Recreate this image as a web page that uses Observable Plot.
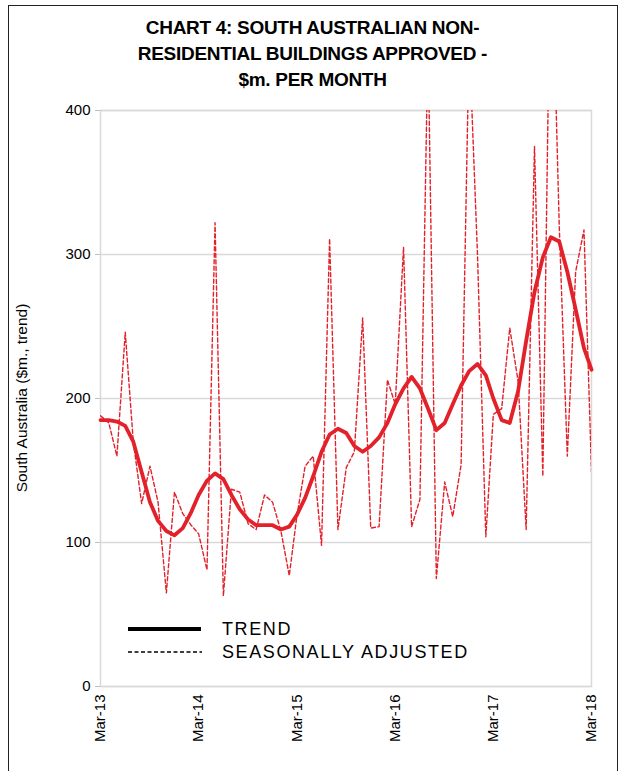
<!DOCTYPE html>
<html><head><meta charset="utf-8">
<script src="https://cdn.jsdelivr.net/npm/d3@7"></script>
<script src="https://cdn.jsdelivr.net/npm/@observablehq/plot@0.6"></script>
<style>
html,body{margin:0;padding:0;background:#fff;}
#wrap{position:relative;width:625px;height:771px;overflow:hidden;font-family:"Liberation Sans",Arial,sans-serif;color:#000;}
#border{position:absolute;left:8px;top:5px;width:610px;height:770px;border:1.5px solid #222;box-sizing:border-box;}
#title{position:absolute;left:0;width:625px;top:15px;text-align:center;font-weight:bold;font-size:19px;letter-spacing:-0.3px;line-height:26px;}
#chart{position:absolute;left:0;top:95px;}
#ylabel{position:absolute;left:22px;top:398px;transform:translate(-50%,-50%) rotate(-90deg);white-space:nowrap;font-size:15.5px;}
.leg{position:absolute;left:222px;font-size:18px;letter-spacing:1.6px;white-space:nowrap;}
</style>
</head><body>
<div id="wrap">
  <div id="border"></div>
  <div id="title">CHART 4: SOUTH AUSTRALIAN NON-<br>RESIDENTIAL BUILDINGS APPROVED -<br>$m. PER MONTH</div>
  <div id="chart"></div>
  <div id="ylabel">South Australia ($m., trend)</div>
  <div style="position:absolute;left:128px;top:627px;width:73px;height:4px;background:#000;"></div>
  <svg style="position:absolute;left:128px;top:650px;" width="74" height="4"><line x1="0" y1="2" x2="74" y2="2" stroke="#000" stroke-width="1.3" stroke-dasharray="4,2.5"/></svg>
  <div class="leg" style="top:619px;">TREND</div>
  <div class="leg" style="top:642px;">SEASONALLY ADJUSTED</div>
</div>
<script>
const trend = [185,185,184,181,170,149,128,115,108,105,110,121,133,143,148,144,133,123,116,112,
  112,112,109,111,119,131,146,163,175,179,176,167,163,167,173,183,196,207,215,207,
  193,178,183,196,209,219,224,216,200,185,183,205,240,274,298,312,309,288,262,235,220];
const seasAdj = [188,183,160,246,170,127,153,128,65,135,120,112,106,81,322,63,137,135,113,109,
  133,128,108,77,118,153,160,98,311,109,152,163,256,110,111,213,196,305,111,130,
  450,75,142,118,154,450,300,104,189,193,249,212,109,375,146,540,320,160,288,317,149];
const xTickLabels = ["Mar-13","Mar-14","Mar-15","Mar-16","Mar-17","Mar-18"];
const yTicks = [0,100,200,300,400];

const months = d3.utcMonth.range(new Date(Date.UTC(2013,2,1)), new Date(Date.UTC(2018,3,1)));
const tickDates = months.filter((d,i)=>i%12===0);
const data = months.map((d,i)=>({date:d, trend:trend[i], sa:seasAdj[i]}));
const red = "#E3212A";

const chart = Plot.plot({
  width:625, height:676,
  marginLeft:100, marginRight:34, marginTop:15, marginBottom:85,
  x:{type:"utc", domain:[months[0], months[months.length-1]]},
  y:{domain:[0,400]},
  style:{fontFamily:"Liberation Sans, Arial, sans-serif", fontSize:"15px", color:"#000", background:"transparent", overflow:"visible"},
  marks:[
    Plot.gridY(yTicks, {stroke:"#d9d9d9", strokeOpacity:1, strokeWidth:1.5}),
    Plot.frame({stroke:"#d9d9d9", strokeWidth:1.5}),
    Plot.axisY({ticks:yTicks, tickSize:5, tickPadding:5, label:null, stroke:"#bfbfbf"}),
    Plot.axisX({ticks:tickDates, tickFormat:d=>xTickLabels[tickDates.findIndex(t=>+t===+d)], tickRotate:-90, tickSize:0, tickPadding:8, label:null}),
    Plot.line(data, {x:"date", y:"sa", stroke:red, strokeWidth:1.4, strokeDasharray:"4,2.5", clip:true}),
    Plot.line(data, {x:"date", y:"trend", stroke:red, strokeWidth:3.8, strokeLinejoin:"round"})
  ]
});
document.getElementById("chart").appendChild(chart);
</script>
</body></html>
